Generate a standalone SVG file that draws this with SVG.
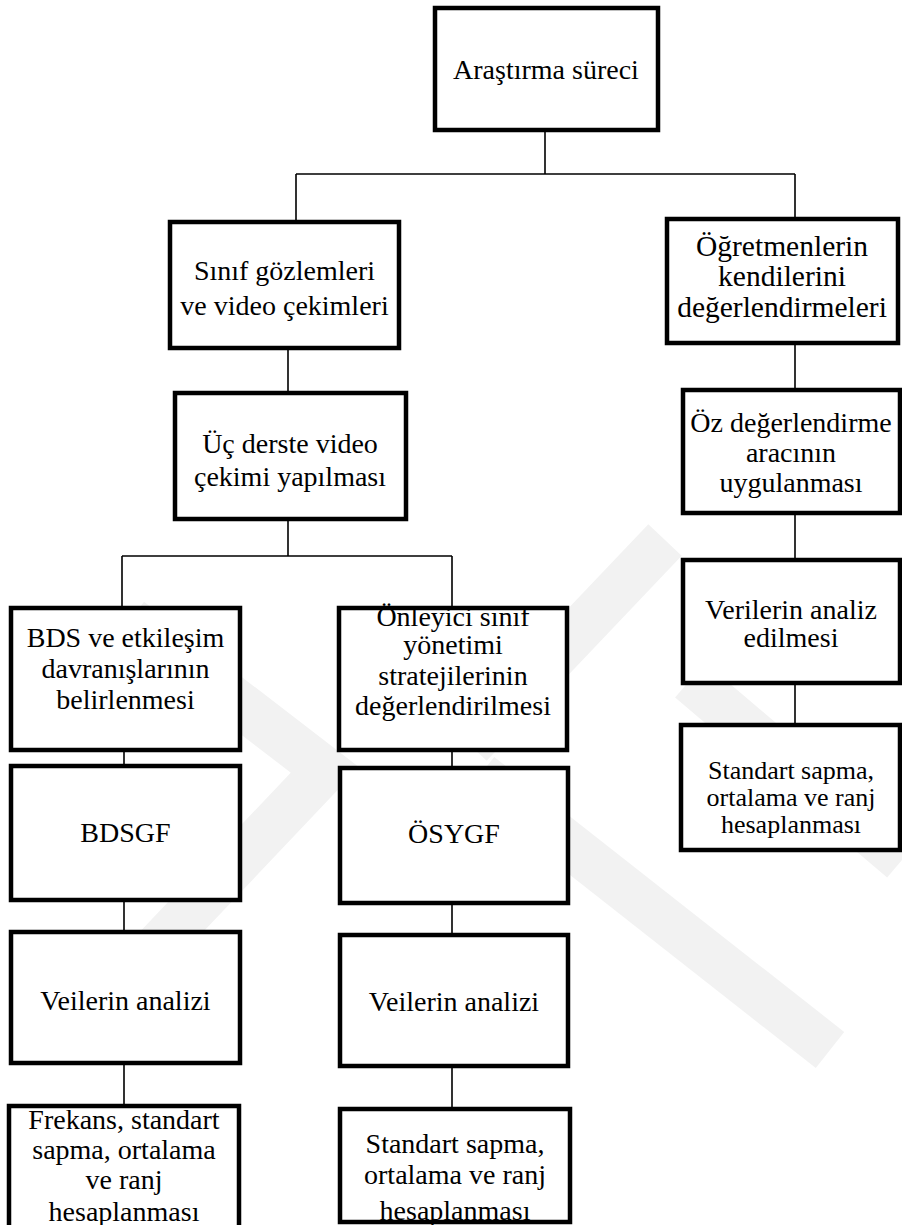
<svg xmlns="http://www.w3.org/2000/svg" width="902" height="1225" viewBox="0 0 902 1225">
<style>
.box{fill:#ffffff;stroke:#000;stroke-width:4.5}
.t{font-family:"Liberation Serif","Times New Roman",serif;font-size:28px;fill:#000;text-anchor:middle}
.c{stroke:#000;stroke-width:1.6;fill:none}
.wm{stroke:#f2f2f2;stroke-width:46;fill:none;stroke-linecap:butt}
</style>
<rect width="902" height="1225" fill="#ffffff"/>
<g id="watermark">
<polyline class="wm" points="130,620 325,770 140,965"/>
<polyline class="wm" points="665,540 470,745"/>
<polyline class="wm" points="480,775 830,1050"/>
<polyline class="wm" points="690,680 902,860"/>
</g>
<g id="connectors">
<path class="c" d="M545,130V174M296,174H795M296,174V222M795,174V219"/>
<path class="c" d="M288,348V393M795,343V390"/>
<path class="c" d="M288,519V556M122,556H452M122,556V608M452,556V608"/>
<path class="c" d="M795,513V560M795,683V725"/>
<path class="c" d="M124,750V766M452,750V768M124,900V932M452,903V935M124,1063V1106M452,1066V1109"/>
</g>
<g id="n-arastirma"><rect class="box" x="435" y="8" width="223" height="122"/><text class="t" x="546" y="79">Araştırma süreci</text></g>
<g id="n-sinif"><rect class="box" x="170" y="222" width="229" height="126"/><text class="t" x="284.5" y="280">Sınıf gözlemleri</text><text class="t" x="284.5" y="315">ve video çekimleri</text></g>
<g id="n-ogretmen"><rect class="box" x="667" y="219" width="231" height="124"/><text class="t" x="782" y="256" style="font-size:29.5px">Öğretmenlerin</text><text class="t" x="782" y="286" style="font-size:29.5px">kendilerini</text><text class="t" x="782" y="317" style="font-size:29.5px">değerlendirmeleri</text></g>
<g id="n-uc"><rect class="box" x="175" y="393" width="231" height="126"/><text class="t" x="290" y="453">Üç derste video</text><text class="t" x="290" y="486">çekimi yapılması</text></g>
<g id="n-oz"><rect class="box" x="683" y="390" width="217" height="123"/><text class="t" x="791" y="432">Öz değerlendirme</text><text class="t" x="791" y="462">aracının</text><text class="t" x="791" y="492">uygulanması</text></g>
<g id="n-verilerin"><rect class="box" x="683" y="560" width="217" height="123"/><text class="t" x="791" y="619">Verilerin analiz</text><text class="t" x="791" y="647">edilmesi</text></g>
<g id="n-standart-r"><rect class="box" x="681" y="725" width="219" height="125"/><text class="t" x="791" y="779" style="font-size:26px">Standart sapma,</text><text class="t" x="791" y="806" style="font-size:26px">ortalama ve ranj</text><text class="t" x="791" y="833" style="font-size:26px">hesaplanması</text></g>
<g id="n-bds"><rect class="box" x="11" y="608" width="229" height="142"/><text class="t" x="125.5" y="647">BDS ve etkileşim</text><text class="t" x="125.5" y="678">davranışlarının</text><text class="t" x="125.5" y="709">belirlenmesi</text></g>
<g id="n-onleyici"><rect class="box" x="339" y="608" width="228" height="142"/><text class="t" x="453" y="626">Önleyici sınıf</text><text class="t" x="453" y="654">yönetimi</text><text class="t" x="453" y="685">stratejilerinin</text><text class="t" x="453" y="715">değerlendirilmesi</text></g>
<g id="n-bdsgf"><rect class="box" x="11" y="766" width="229" height="134"/><text class="t" x="125.5" y="842">BDSGF</text></g>
<g id="n-osygf"><rect class="box" x="340" y="768" width="228" height="135"/><text class="t" x="454" y="843">ÖSYGF</text></g>
<g id="n-veilerin-l"><rect class="box" x="11" y="932" width="229" height="131"/><text class="t" x="125.5" y="1010">Veilerin analizi</text></g>
<g id="n-veilerin-r"><rect class="box" x="340" y="935" width="228" height="131"/><text class="t" x="454" y="1011">Veilerin analizi</text></g>
<g id="n-frekans"><rect class="box" x="9" y="1106" width="230" height="124"/><text class="t" x="124" y="1129">Frekans, standart</text><text class="t" x="124" y="1159">sapma, ortalama</text><text class="t" x="124" y="1189">ve ranj</text><text class="t" x="124" y="1221">hesaplanması</text></g>
<g id="n-standart-m"><rect class="box" x="340" y="1109" width="230" height="113"/><text class="t" x="455" y="1153">Standart sapma,</text><text class="t" x="455" y="1184">ortalama ve ranj</text><text class="t" x="455" y="1220">hesaplanması</text></g>
</svg>
